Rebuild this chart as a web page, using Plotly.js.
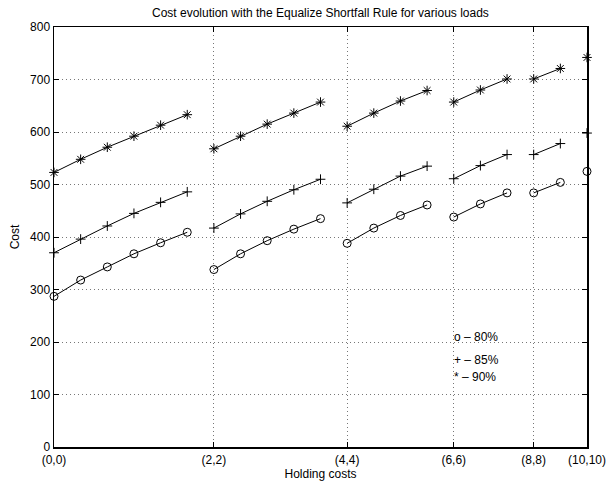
<!DOCTYPE html>
<html>
<head>
<meta charset="utf-8">
<script src="https://cdn.plot.ly/plotly-3.0.1.min.js"></script>
<style>html,body{margin:0;padding:0;background:#fff;}#chart{width:608px;height:485px;}</style>
</head>
<body>
<div id="chart"></div>
<script>
// Holding cost pairs (h1,h2), one point each, in plotting order
const h1 = [0,0,0,0,0,0, 2,2,2,2,2, 4,4,4,4, 6,6,6, 8,8, 10];
const h2 = [0,2,4,6,8,10, 2,4,6,8,10, 4,6,8,10, 6,8,10, 8,10, 10];
// Cost per load
const cost80 = [287,318,343,368,389,409, 338,368,393,415,435, 388,417,441,461, 438,463,484, 484,504, 525];
const cost85 = [370,396,421,445,466,486, 417,444,468,490,510, 465,491,516,535, 511,536,557, 557,578, 598];
const cost90 = [523,548,571,592,613,633, 568,592,615,636,657, 611,636,659,679, 657,680,701, 701,721, 742];
// Tick labels (the start of each h1 block)
const tickLabels = ["(0,0)","(2,2)","(4,4)","(6,6)","(8,8)","(10,10)"];
const legendTexts = ["o \u2013 80%", "+ \u2013 85%", "* \u2013 90%"];

// Build x/y with gaps between h1 blocks
function build(vals){
  const x=[], y=[];
  for(let i=0;i<vals.length;i++){
    if(i>0 && h1[i]!==h1[i-1]){ x.push(null); y.push(null); }
    x.push(i); y.push(vals[i]);
  }
  return {x,y};
}
const tickVals = [];
for(let i=0;i<h1.length;i++){ if(i===0 || h1[i]!==h1[i-1]) tickVals.push(i); }

const series = [
  {vals: cost80, sym:'circle-open', size:8},
  {vals: cost85, sym:'cross-thin-open', size:7},
  {vals: cost90, sym:'asterisk-open', size:8}
];
const traces = series.map(s=>{
  const d = build(s.vals);
  return {x:d.x, y:d.y, type:'scatter', mode:'lines+markers', connectgaps:false,
    line:{color:'#000', width:1},
    marker:{symbol:s.sym, size:s.size, color:'#000', line:{color:'#000', width:1}},
    cliponaxis:false, hoverinfo:'skip'};
});

const font = {family:'Liberation Sans, Arial, Helvetica, sans-serif', size:12, color:'#000'};
const layout = {
  width:608, height:485,
  margin:{l:54, r:21, t:27, b:38},
  paper_bgcolor:'#fff', plot_bgcolor:'#fff',
  showlegend:false,
  font: font,
  title:{text:'Cost evolution with the Equalize Shortfall Rule for various loads', font:font, x:0.527, xanchor:'center', y:0.974, yanchor:'middle'},
  xaxis:{range:[0,20], tickmode:'array', tickvals:tickVals, ticktext:tickLabels,
    showgrid:true, gridcolor:'#777', griddash:'1px,3px', gridwidth:1,
    showline:true, linecolor:'#000', linewidth:1.5, mirror:'ticks',
    ticks:'inside', ticklen:5, tickcolor:'#000', zeroline:false, ticklabelstandoff:1,
    title:{text:'Holding costs', font:font, standoff:0}, tickfont:font},
  yaxis:{range:[0,800], dtick:100, showgrid:true, gridcolor:'#777', griddash:'1px,3px', gridwidth:1,
    showline:true, linecolor:'#000', linewidth:1.5, mirror:'ticks',
    ticks:'inside', ticklen:5, tickcolor:'#000', zeroline:false,
    title:{text:'Cost', font:font, standoff:8}, tickfont:font},
  annotations: [
    {x:15, y:209, text:legendTexts[0]},
    {x:15, y:165, text:legendTexts[1]},
    {x:15, y:133, text:legendTexts[2]}
  ].map(a=>Object.assign(a,{xref:'x', yref:'y', xanchor:'left', yanchor:'middle', showarrow:false, font:font, xshift:-2}))
};
Plotly.newPlot('chart', traces, layout, {staticPlot:true});
</script>
</body>
</html>
